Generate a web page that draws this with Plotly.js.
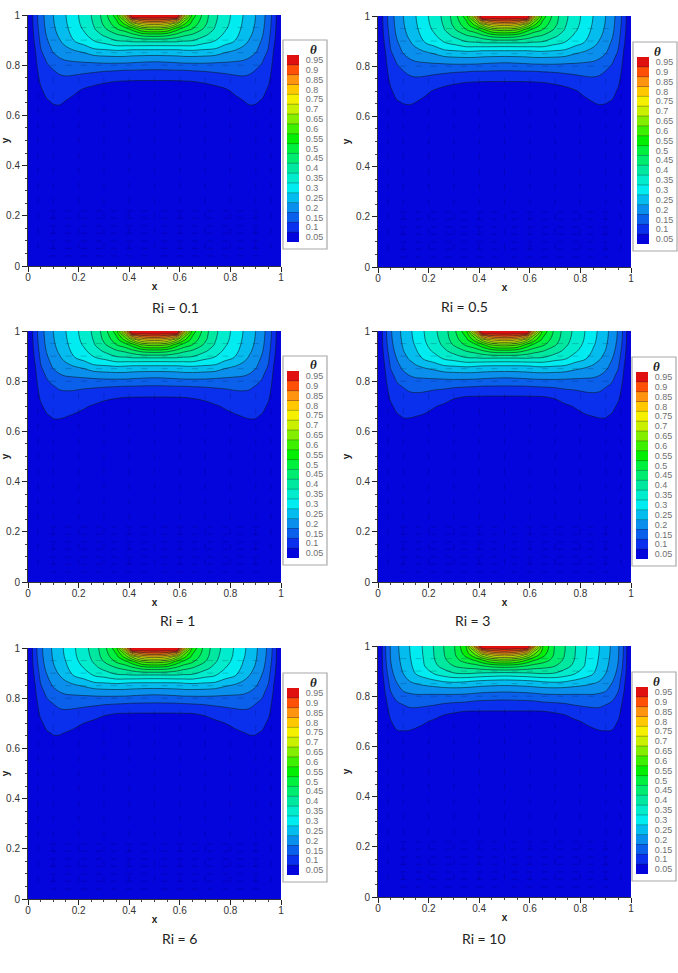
<!DOCTYPE html>
<html>
<head>
<meta charset="utf-8">
<script src="https://cdn.plot.ly/plotly-3.0.1.min.js"></script>
<style>html,body{margin:0;padding:0;background:#fff}</style>
</head>
<body>
<div id="chart" style="width:678px;height:973px"></div>
<script>
var xHalf = [0, .015, .03, .05, .075, .1, .125, .15, .18, .22, .26, .3, .35, .385, .41, .45, .5];
var yRows = [0, .5, .6, .63, .66, .7, .74, .78, .82, .86, .89, .92, .945, .965, .98, .99, 1];

var thetaRi01 = [
  [0,0,0,0,0,0,0,0,0,0,0,0,0,0,0,0,0],
  [0,.004,.006,.008,.01,.012,.012,.012,.01,.01,.01,.01,.01,.01,.01,.01,.01],
  [0,.008,.012,.02,.03,.035,.036,.03,.024,.022,.02,.02,.018,.018,.018,.018,.018],
  [0,.01,.015,.026,.04,.045,.046,.04,.032,.028,.026,.024,.022,.022,.022,.022,.022],
  [0,.011,.018,.032,.048,.055,.056,.05,.04,.034,.03,.028,.026,.026,.026,.026,.026],
  [0,.013,.024,.044,.063,.069,.072,.069,.06,.044,.036,.032,.03,.03,.03,.03,.03],
  [0,.015,.03,.057,.078,.084,.088,.089,.085,.077,.066,.058,.0525,.0515,.051,.0505,.0505],
  [0,.018,.036,.07,.09,.099,.109,.115,.115,.112,.11,.106,.103,.1,.1,.098,.097],
  [0,.022,.043,.084,.104,.128,.143,.151,.155,.16,.164,.169,.17,.17,.167,.163,.16],
  [0,.026,.051,.097,.127,.157,.172,.187,.2,.213,.24,.245,.252,.25,.245,.245,.245],
  [0,.03,.06,.107,.142,.172,.193,.213,.243,.264,.292,.306,.335,.335,.34,.338,.337],
  [0,.034,.068,.116,.155,.185,.208,.23,.263,.289,.323,.356,.392,.41,.43,.463,.475],
  [0,.037,.074,.122,.162,.192,.217,.24,.272,.305,.345,.39,.45,.48,.52,.6,.62],
  [0,.038,.078,.126,.165,.196,.222,.245,.277,.313,.353,.408,.48,.565,.65,.75,.775],
  [0,.039,.08,.128,.167,.198,.224,.248,.279,.317,.357,.415,.5,.625,.81,.88,.9],
  [0,.04,.081,.129,.168,.199,.225,.249,.28,.319,.359,.418,.515,.7,.95,.96,.967],
  [0,.04,.082,.13,.169,.2,.226,.25,.281,.32,.36,.42,.53,.8,1,1,1]
];
var thetaRi05 = [
  [0,0,0,0,0,0,0,0,0,0,0,0,0,0,0,0,0],
  [0,.004,.006,.008,.01,.012,.012,.012,.01,.01,.01,.01,.01,.01,.01,.01,.01],
  [0,.008,.012,.02,.03,.034,.035,.031,.024,.022,.02,.02,.018,.018,.018,.018,.018],
  [0,.01,.015,.026,.039,.043,.045,.041,.033,.028,.026,.024,.022,.022,.022,.022,.022],
  [0,.011,.018,.032,.048,.053,.054,.051,.042,.034,.03,.028,.026,.026,.026,.026,.026],
  [0,.013,.024,.044,.063,.068,.071,.071,.062,.046,.036,.032,.03,.03,.03,.03,.03],
  [0,.015,.03,.057,.078,.084,.088,.089,.086,.078,.066,.058,.0525,.0515,.051,.0505,.0505],
  [0,.018,.036,.07,.09,.099,.109,.115,.115,.112,.11,.106,.103,.1,.1,.098,.097],
  [0,.022,.043,.084,.104,.128,.143,.151,.155,.16,.164,.169,.17,.17,.167,.163,.16],
  [0,.026,.051,.097,.127,.157,.172,.187,.2,.214,.24,.246,.252,.25,.245,.245,.245],
  [0,.03,.06,.107,.142,.172,.193,.213,.243,.265,.293,.307,.335,.335,.34,.338,.337],
  [0,.034,.068,.116,.155,.185,.208,.23,.263,.29,.324,.357,.393,.41,.43,.463,.475],
  [0,.037,.074,.122,.162,.192,.217,.24,.272,.306,.346,.391,.45,.48,.52,.6,.62],
  [0,.038,.078,.126,.165,.196,.222,.245,.277,.314,.354,.409,.48,.565,.65,.75,.775],
  [0,.039,.08,.128,.167,.198,.224,.248,.279,.318,.358,.416,.5,.625,.81,.88,.9],
  [0,.04,.081,.129,.168,.199,.225,.249,.28,.32,.36,.419,.515,.7,.95,.96,.967],
  [0,.04,.082,.13,.169,.2,.226,.25,.281,.321,.361,.421,.53,.8,1,1,1]
];
var thetaRi1 = [
  [0,0,0,0,0,0,0,0,0,0,0,0,0,0,0,0,0],
  [0,.004,.006,.008,.01,.012,.012,.012,.01,.01,.01,.01,.01,.01,.01,.01,.01],
  [0,.008,.012,.02,.029,.033,.034,.029,.023,.021,.02,.02,.018,.018,.018,.018,.018],
  [0,.01,.015,.026,.037,.043,.044,.038,.03,.026,.024,.023,.022,.022,.022,.022,.022],
  [0,.011,.018,.032,.046,.053,.053,.051,.045,.038,.03,.027,.026,.026,.026,.026,.026],
  [0,.013,.024,.044,.061,.068,.069,.07,.066,.055,.045,.036,.031,.03,.03,.03,.03],
  [0,.015,.03,.057,.077,.083,.086,.086,.084,.078,.073,.062,.055,.0525,.052,.0515,.0515],
  [0,.018,.036,.07,.09,.098,.108,.112,.112,.108,.106,.104,.102,.1,.1,.098,.097],
  [0,.022,.043,.084,.104,.128,.143,.15,.153,.158,.163,.168,.17,.17,.167,.163,.16],
  [0,.026,.051,.097,.127,.157,.172,.187,.2,.213,.24,.245,.252,.25,.245,.245,.245],
  [0,.03,.06,.107,.142,.172,.193,.213,.243,.264,.292,.306,.335,.335,.34,.338,.337],
  [0,.034,.068,.116,.155,.185,.208,.23,.263,.289,.323,.356,.392,.41,.43,.463,.475],
  [0,.037,.074,.122,.162,.192,.217,.24,.272,.305,.345,.39,.45,.48,.52,.6,.62],
  [0,.038,.078,.126,.165,.196,.222,.245,.277,.313,.353,.408,.48,.565,.65,.75,.775],
  [0,.039,.08,.128,.167,.198,.224,.248,.279,.317,.357,.415,.5,.625,.81,.88,.9],
  [0,.04,.081,.129,.168,.199,.225,.249,.28,.319,.359,.418,.515,.7,.95,.96,.967],
  [0,.04,.082,.13,.169,.2,.226,.25,.281,.32,.36,.42,.53,.8,1,1,1]
];
var thetaRi3 = [
  [0,0,0,0,0,0,0,0,0,0,0,0,0,0,0,0,0],
  [0,.004,.006,.008,.01,.012,.012,.012,.01,.01,.01,.01,.01,.01,.01,.01,.01],
  [0,.008,.012,.019,.028,.032,.033,.03,.025,.023,.021,.02,.018,.018,.018,.018,.018],
  [0,.01,.015,.025,.036,.042,.043,.04,.034,.03,.026,.024,.022,.022,.022,.022,.022],
  [0,.011,.018,.031,.045,.052,.052,.05,.046,.038,.03,.028,.026,.026,.026,.026,.026],
  [0,.013,.024,.043,.06,.067,.068,.068,.064,.053,.043,.033,.03,.03,.03,.03,.03],
  [0,.015,.03,.058,.08,.086,.09,.09,.087,.078,.071,.056,.0505,.05,.0495,.049,.049],
  [0,.018,.038,.074,.094,.102,.112,.118,.118,.114,.112,.108,.104,.102,.1,.099,.098],
  [0,.024,.048,.088,.11,.133,.148,.156,.158,.162,.166,.17,.171,.17,.167,.163,.16],
  [0,.028,.056,.104,.135,.165,.18,.195,.208,.222,.245,.25,.256,.252,.247,.245,.245],
  [0,.032,.066,.116,.152,.183,.205,.225,.254,.278,.304,.318,.342,.342,.345,.342,.34],
  [0,.036,.076,.127,.167,.198,.222,.245,.278,.306,.338,.37,.402,.42,.44,.47,.48],
  [0,.04,.083,.135,.175,.206,.232,.256,.288,.322,.36,.405,.46,.49,.53,.605,.625],
  [0,.041,.087,.14,.179,.21,.237,.262,.294,.33,.369,.423,.49,.575,.66,.755,.78],
  [0,.042,.089,.142,.181,.212,.239,.265,.296,.334,.373,.43,.51,.635,.82,.885,.905],
  [0,.043,.09,.143,.182,.213,.24,.266,.297,.336,.375,.433,.525,.71,.95,.96,.967],
  [0,.043,.091,.144,.183,.214,.241,.267,.298,.337,.376,.435,.54,.81,1,1,1]
];
var thetaRi6 = [
  [0,0,0,0,0,0,0,0,0,0,0,0,0,0,0,0,0],
  [0,.004,.006,.008,.01,.012,.012,.012,.01,.01,.01,.01,.01,.01,.01,.01,.01],
  [0,.008,.012,.019,.029,.033,.033,.029,.024,.022,.021,.02,.018,.018,.018,.018,.018],
  [0,.01,.015,.025,.037,.043,.043,.039,.032,.028,.026,.024,.022,.022,.022,.022,.022],
  [0,.011,.018,.031,.046,.052,.052,.048,.042,.036,.03,.028,.026,.026,.026,.026,.026],
  [0,.013,.024,.043,.061,.067,.067,.065,.06,.05,.04,.033,.03,.03,.03,.03,.03],
  [0,.015,.03,.058,.08,.086,.09,.09,.086,.079,.069,.056,.0505,.05,.0495,.049,.049],
  [0,.018,.036,.072,.092,.101,.111,.117,.117,.114,.112,.108,.104,.102,.1,.099,.098],
  [0,.023,.046,.086,.108,.131,.146,.154,.157,.161,.165,.169,.17,.17,.167,.163,.16],
  [0,.027,.054,.101,.132,.162,.177,.192,.205,.219,.243,.248,.254,.25,.246,.245,.245],
  [0,.031,.064,.112,.148,.179,.2,.22,.25,.273,.3,.314,.34,.34,.343,.34,.338],
  [0,.035,.073,.123,.163,.193,.217,.24,.273,.3,.333,.365,.398,.416,.436,.467,.478],
  [0,.039,.08,.13,.17,.201,.227,.25,.283,.316,.355,.4,.456,.486,.526,.602,.622],
  [0,.04,.084,.135,.174,.205,.232,.256,.289,.324,.364,.418,.486,.57,.655,.752,.777],
  [0,.041,.086,.137,.176,.207,.234,.259,.291,.328,.368,.425,.506,.63,.815,.882,.902],
  [0,.042,.087,.138,.177,.208,.235,.26,.292,.33,.37,.428,.52,.705,.95,.96,.967],
  [0,.042,.088,.139,.178,.209,.236,.261,.293,.331,.371,.43,.535,.805,1,1,1]
];
var thetaRi10 = [
  [0,0,0,0,0,0,0,0,0,0,0,0,0,0,0,0,0],
  [0,.004,.006,.008,.01,.012,.012,.012,.01,.01,.01,.01,.01,.01,.01,.01,.01],
  [0,.008,.012,.021,.031,.033,.03,.026,.023,.021,.02,.02,.018,.018,.018,.018,.018],
  [0,.01,.016,.028,.04,.043,.04,.036,.03,.027,.025,.024,.022,.022,.022,.022,.022],
  [0,.012,.02,.035,.048,.049,.048,.044,.036,.032,.03,.028,.026,.026,.026,.026,.026],
  [0,.014,.026,.048,.064,.068,.066,.062,.056,.044,.033,.03,.03,.03,.03,.03,.03],
  [0,.016,.034,.062,.083,.091,.092,.09,.085,.078,.06,.054,.0495,.049,.0485,.0485,.0485],
  [0,.02,.042,.078,.1,.105,.113,.118,.118,.115,.112,.108,.104,.098,.096,.094,.092],
  [0,.026,.055,.1,.125,.15,.16,.165,.165,.166,.168,.17,.168,.163,.16,.157,.155],
  [0,.03,.067,.12,.155,.18,.2,.212,.225,.24,.255,.26,.255,.248,.243,.238,.235],
  [0,.036,.08,.134,.172,.2,.228,.252,.275,.3,.325,.345,.35,.345,.34,.335,.33],
  [0,.04,.09,.145,.183,.21,.24,.265,.295,.335,.368,.4,.42,.43,.445,.465,.475],
  [0,.042,.095,.15,.188,.215,.245,.27,.3,.345,.39,.43,.48,.51,.55,.61,.63],
  [0,.043,.098,.153,.19,.218,.248,.273,.303,.349,.397,.44,.52,.6,.68,.76,.785],
  [0,.044,.099,.154,.192,.219,.249,.274,.304,.35,.399,.442,.54,.66,.83,.89,.91],
  [0,.045,.1,.155,.192,.22,.25,.275,.305,.351,.4,.443,.55,.74,.95,.96,.967],
  [0,.045,.1,.155,.193,.22,.25,.275,.305,.351,.4,.443,.555,.85,1,1,1]
];

var captions = ['Ri = 0.1', 'Ri = 0.5', 'Ri = 1', 'Ri = 3', 'Ri = 6', 'Ri = 10'];
var grids = [thetaRi01, thetaRi05, thetaRi1, thetaRi3, thetaRi6, thetaRi10];

// one colour per band between contour levels, lowest first
var bandColors = ['#0404dc', '#0a30ee', '#0a60ea', '#0a90ec', '#04bcee', '#00ecf0', '#00eccc', '#00e8a0',
  '#00ec70', '#00f040', '#04ee04', '#3cf000', '#70ee00', '#a8ee00', '#e0f000', '#ffd000', '#ff9c10', '#ff7008', '#f83808', '#e01010'];
var legendTicks = [.05,.1,.15,.2,.25,.3,.35,.4,.45,.5,.55,.6,.65,.7,.75,.8,.85,.9,.95];
var legendColors = ['#0404dc', '#0a30ee', '#0a60ea', '#0a90ec', '#04bcee', '#00ecf0', '#00eccc', '#00e8a0',
  '#00ec70', '#00f040', '#04ee04', '#3cf000', '#84ee00', '#c8f000', '#f4f000', '#ffc800', '#ff9410', '#ff5008', '#e01010'];

// faint velocity dashes
var flatDashY = [.04,.07,.1,.13,.16,.19,.22,.8,.85,.9,.95];
var flatDashX = [.1,.16,.22,.28,.34,.4,.46,.54,.6,.66,.72,.78,.84,.9];
var upDashY = [.08,.14,.2,.26,.32,.38,.44,.5,.56,.62,.68,.74];
var upDashX = [.04,.1,.2,.3,.4,.5,.6,.7,.8,.9,.96];

// left, right, top, bottom of each plot in the window
var boxes = [[28,281,15,266],[378,631,16,267],[28,281,331,582],[378,631,331,582],[28,281,648,899],[378,631,646,897]];
var legendBoxes = [[283,40],[633,42],[283,356],[632,357],[283,673],[632,672]];
var captionAt = [[150,307],[490,306],[158,620],[492,620],[160,938],[508,938]];

var W = 678, H = 973;
var xFull = xHalf.concat(xHalf.slice(0, -1).reverse().map(function(v) { return 1 - v; }));
function mirror(row) { return row.concat(row.slice(0, -1).reverse()); }
var colorscale = bandColors.map(function(c, i) { return [i / (bandColors.length - 1), c]; });
var legendScale = legendColors.map(function(c, i) { return [i / (legendColors.length - 1), c]; });

var data = [], layout = {
  width: W, height: H, margin: {l: 0, r: 0, t: 0, b: 0}, showlegend: false,
  paper_bgcolor: '#fff', plot_bgcolor: '#fff',
  font: {family: '"Liberation Sans", Arial, sans-serif', size: 9, color: '#333'},
  annotations: [], shapes: []
};

grids.forEach(function(grid, i) {
  var n = i === 0 ? '' : String(i + 1), b = boxes[i], lb = legendBoxes[i];
  data.push({
    type: 'contour', x: xFull, y: yRows, z: grid.map(mirror), xaxis: 'x' + n, yaxis: 'y' + n,
    autocontour: false, contours: {start: .05, end: .95, size: .05, coloring: 'fill'},
    line: {color: '#0c1c28', width: .6, smoothing: 1},
    colorscale: colorscale, showscale: false, hoverinfo: 'skip'
  });
  // velocity dashes
  var vx = [], vy = [];
  flatDashY.forEach(function(y) { flatDashX.forEach(function(x) { vx.push(x - .012, x + .012, null); vy.push(y, y, null); }); });
  upDashX.forEach(function(x) { upDashY.forEach(function(y) { vx.push(x, x, null); vy.push(y - .012, y + .012, null); }); });
  data.push({type: 'scatter', mode: 'lines', x: vx, y: vy, xaxis: 'x' + n, yaxis: 'y' + n, hoverinfo: 'skip',
    line: {color: 'rgba(0,0,50,.28)', width: .7}});

  var axis = {
    range: [0, 1], dtick: .2, ticks: 'outside', ticklen: 5, tickcolor: '#222', showgrid: false, zeroline: false,
    showline: true, linecolor: '#333', linewidth: 1, tickfont: {size: 10, color: '#333'},
    minor: {dtick: .05, ticks: 'outside', ticklen: 2, tickcolor: '#444', showgrid: false}
  };
  layout['xaxis' + n] = Object.assign({}, axis, {domain: [b[0] / W, b[1] / W], anchor: 'y' + n, ticklabelstandoff: -3,
    title: {text: '<b>x</b>', standoff: 0, font: {size: 10, color: '#222'}}});
  layout['yaxis' + n] = Object.assign({}, axis, {domain: [1 - b[3] / H, 1 - b[2] / H], anchor: 'x' + n,
    title: {text: '<b>y</b>', standoff: 3, font: {size: 10, color: '#222'}}});
  layout.annotations.push({xref: 'paper', yref: 'paper', x: captionAt[i][0] / W, y: 1 - captionAt[i][1] / H, yanchor: 'middle',
    text: captions[i], showarrow: false, font: {family: 'Lato, sans-serif', size: 14, color: '#222'}});

  // legend: its own little subplot
  var k = i + 7, edges = [], ex = [];
  legendTicks.slice(1).forEach(function(t) { edges.push(t - .025, t - .025, null); ex.push(-.5, .5, null); });
  data.push({type: 'heatmap', x: [0], y: legendTicks, z: legendTicks.map(function(t) { return [t]; }),
    xaxis: 'x' + k, yaxis: 'y' + k, zmin: .05, zmax: .95, colorscale: legendScale, showscale: false, hoverinfo: 'skip'});
  data.push({type: 'scatter', mode: 'lines', x: ex, y: edges, xaxis: 'x' + k, yaxis: 'y' + k, hoverinfo: 'skip',
    line: {color: 'rgba(20,30,30,.55)', width: .6}});
  layout['xaxis' + k] = {domain: [(lb[0] + 4) / W, (lb[0] + 16) / W], range: [-.5, .5], visible: false, anchor: 'y' + k};
  layout['yaxis' + k] = {domain: [1 - (lb[1] + 202) / H, 1 - (lb[1] + 15) / H], range: [.025, .975], anchor: 'x' + k, side: 'right',
    tickvals: legendTicks, ticktext: legendTicks.map(String), ticks: 'outside', ticklen: 4, tickcolor: 'rgba(0,0,0,0)',
    showgrid: false, zeroline: false, showline: false, tickfont: {size: 9, color: '#707070'}};
  layout.shapes.push({type: 'rect', xref: 'paper', yref: 'paper', x0: lb[0] / W, x1: (lb[0] + 44) / W,
    y0: 1 - (lb[1] + 209) / H, y1: 1 - lb[1] / H, layer: 'below', fillcolor: '#fff', line: {color: '#a8a8a8', width: 1.2}});
  layout.annotations.push({xref: 'paper', yref: 'paper', x: (lb[0] + 30) / W, y: 1 - (lb[1] + 9) / H, yanchor: 'middle',
    text: '<b><i>θ</i></b>', showarrow: false, font: {family: '"Liberation Serif", serif', size: 13, color: '#222'}});
});

Plotly.newPlot('chart', data, layout, {displayModeBar: false});
</script>
</body>
</html>
